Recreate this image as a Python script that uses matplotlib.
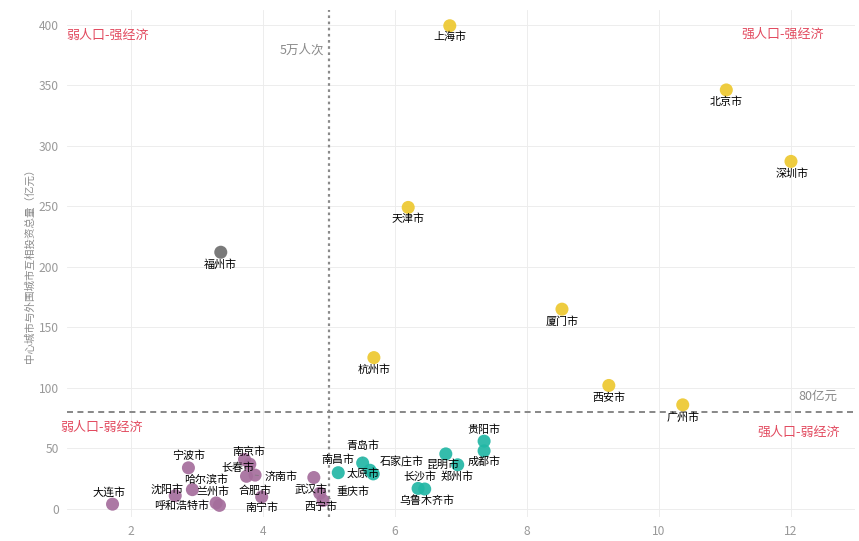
import numpy as np
import matplotlib
matplotlib.use("Agg")
import matplotlib.pyplot as plt

plt.rcParams['font.family'] = ['Noto Sans CJK SC', 'DejaVu Sans']

# 城市数据：x = 人口流动（万人次），y = 互相投资总量（亿元）
cities = ['上海市', '北京市', '深圳市', '天津市', '福州市', '厦门市', '杭州市', '西安市', '广州市',
          '大连市', '宁波市', '沈阳市', '哈尔滨市', '兰州市', '呼和浩特市', '南京市', '长春市',
          '济南市', '合肥市', '南宁市', '武汉市', '西宁市', '重庆市',
          '南昌市', '青岛市', '太原市', '石家庄市', '长沙市', '乌鲁木齐市', '昆明市', '郑州市',
          '贵阳市', '成都市']
x_vals = [6.83, 11.02, 12.0, 6.2, 3.36, 8.53, 5.68, 9.24, 10.36,
          1.72, 2.87, 2.67, 2.93, 3.29, 3.34, 3.72, 3.8,
          3.88, 3.75, 3.98, 4.77, 4.86, 4.91,
          5.14, 5.51, 5.62, 5.67, 6.35, 6.45, 6.77, 6.95,
          7.35, 7.35]
y_vals = [399, 346, 287, 249, 212, 165, 125, 102, 86,
          4, 34, 11, 16, 5, 3, 41, 37,
          28, 27, 10, 26, 13, 7,
          30, 38, 32, 29, 17, 16.5, 45.5, 36.5,
          56, 48]
groups = ['强'] * 4 + ['福'] + ['强'] * 4 + ['弱'] * 14 + ['中'] * 10

group_colors = {'强': '#EDC82F', '福': '#6F6F6F', '弱': '#A56E9C', '中': '#22B7A5'}

# 标签偏移（像素），以及是否画引线
label_offsets = {
    '上海市': (0, -11), '北京市': (0, -12), '深圳市': (1, -12), '天津市': (0, -11),
    '福州市': (0, -12), '厦门市': (0, -12), '杭州市': (0, -12), '西安市': (0, -12),
    '广州市': (0, -13), '大连市': (-4, 12), '宁波市': (0, 12), '沈阳市': (-8, 6),
    '哈尔滨市': (14, 10), '兰州市': (-3, 11), '呼和浩特市': (-38, 0), '南京市': (4, 8),
    '长春市': (-12, -4), '济南市': (26, -2), '合肥市': (9, -14), '南宁市': (0, -11),
    '武汉市': (-3, -12), '西宁市': (1, -13), '重庆市': (30, 9), '南昌市': (0, 13),
    '青岛市': (0, 17), '太原市': (-7, -3), '石家庄市': (28, 12), '长沙市': (2, 12),
    '乌鲁木齐市': (2, -12), '昆明市': (-3, -11), '郑州市': (-1, -12), '贵阳市': (0, 12),
    '成都市': (0, -11),
}
leader = ['济南市', '重庆市', '青岛市']

x_line = 5
y_line = 80

fig = plt.figure(figsize=(859 / 72, 541 / 72), dpi=72)
ax = fig.add_axes([67 / 859, 24 / 541, (855 - 67) / 859, (517 - 10) / 541])

for g in ['强', '福', '弱', '中']:
    idx = [i for i, gg in enumerate(groups) if gg == g]
    ax.scatter([x_vals[i] for i in idx], [y_vals[i] for i in idx], s=170,
               color=group_colors[g], alpha=0.92, edgecolors='none', zorder=3)

for i, name in enumerate(cities):
    dx, dy = label_offsets[name]
    props = None
    if name in leader:
        props = dict(arrowstyle='-', color='#777777', lw=0.6, shrinkA=4, shrinkB=5)
    ax.annotate(name, (x_vals[i], y_vals[i]), xytext=(dx, dy), textcoords='offset points',
                ha='center', va='center', fontsize=11, color='#000000', zorder=4,
                arrowprops=props)

ax.axvline(x_line, color='#8a8a8a', lw=2.2, linestyle=(0, (1.2, 1.6)), zorder=2)
ax.axhline(y_line, color='#8a8a8a', lw=2.0, linestyle=(0, (3, 2.2)), zorder=2)

ax.text(4.92, 379, '5万人次', ha='right', va='center', fontsize=12.5, color='#8a8a8a')
ax.text(12.41, 93, '80亿元', ha='center', va='center', fontsize=12.5, color='#8a8a8a')

red = '#E24A5F'
qfont = dict(fontsize=13, color=red, fontweight='medium', ha='center', va='center')
ax.text(1.65, 391, '弱人口-强经济', **qfont)
ax.text(11.88, 392, '强人口-强经济', **qfont)
ax.text(1.55, 67, '弱人口-弱经济', **qfont)
ax.text(12.12, 63, '强人口-弱经济', **qfont)

ax.set_xlim(1.03, 12.97)
ax.set_ylim(-6.6, 412)
ax.set_xticks([2, 4, 6, 8, 10, 12])
ax.set_yticks([0, 50, 100, 150, 200, 250, 300, 350, 400])
ax.grid(True, color='#ececec', lw=0.9)
ax.set_axisbelow(True)
for s in ax.spines.values():
    s.set_visible(False)
ax.tick_params(length=0, labelsize=12, labelcolor='#999999', pad=8)
ax.set_ylabel('中心城市与外围城市互相投资总量（亿元）', fontsize=10.5, color='#8a8a8a', labelpad=4)

fig.savefig('out.png', dpi=72)
